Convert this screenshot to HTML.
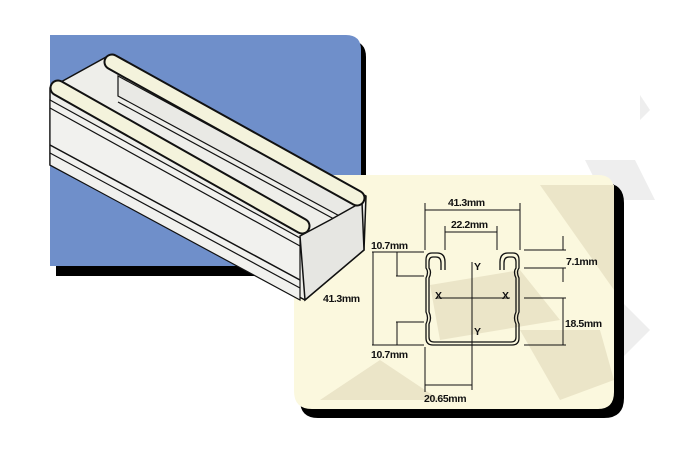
<!DOCTYPE html>
<html><head><meta charset="utf-8"><style>
html,body{margin:0;padding:0;background:#fff;width:700px;height:450px;overflow:hidden}
svg text{font-family:"Liberation Sans",sans-serif;font-size:10.5px;font-weight:bold;fill:#111;letter-spacing:-0.4px}
</style></head><body>
<svg width="700" height="450" viewBox="0 0 700 450" xmlns="http://www.w3.org/2000/svg">
<polygon points="585,160 635,160 655,200 605,200" fill="#eeeeee"/>
<polygon points="610,290 650,330 620,360 600,330" fill="#eeeeee"/>
<polygon points="640,95 650,110 640,120" fill="#eeeeee"/>
<path d="M56,41 H350 Q366,41 366,57 V276 H56 Z" fill="#000"/>
<path d="M50,35 H346 Q361,35 361,50 V266 H50 Z" fill="#6f8fca"/>
<path d="M303,183 H604 Q624,183 624,203 V398 Q624,418 604,418 H318 Q300,418 300,400 Z" fill="#000"/>
<path d="M310,175 H598 Q614,175 614,191 V392 Q614,409 598,409 H312 Q294,409 294,391 V191 Q294,175 310,175 Z" fill="#fbf8de"/>
<polygon points="540,185 614,185 614,290" fill="#ebe5c8"/>
<polygon points="430,285 520,270 560,320 440,340" fill="#ebe5c8"/>
<polygon points="320,400 380,360 440,400" fill="#ebe5c8"/>
<polygon points="520,330 600,330 614,380 560,400" fill="#ebe5c8"/>
<!-- 3D channel -->
<polygon points="50,88 108,56 366,196 364,250 305,300 50,165" fill="#eeeeea" stroke="#111" stroke-width="1.5"/>
<polygon points="118,76 358,206 358,226 118,96" fill="#e9e9e5" stroke="#111" stroke-width="1.2"/>
<polygon points="50,100 300,238 300,300 50,165" fill="#f1f1ee" stroke="#111" stroke-width="1.2"/>
<line x1="50" y1="108" x2="300" y2="246" stroke="#111" stroke-width="1.2"/>
<line x1="50" y1="145" x2="300" y2="280" stroke="#111" stroke-width="1.5"/>
<line x1="50" y1="153" x2="300" y2="288" stroke="#111" stroke-width="1.2"/>
<line x1="118" y1="102" x2="358" y2="232" stroke="#111" stroke-width="1.2"/>
<polygon points="300,236 330,220 362,202 364,250 305,300" fill="#e6e6e2" stroke="#111" stroke-width="1.5"/>
<line x1="112" y1="62" x2="357" y2="198" stroke="#111" stroke-width="17" stroke-linecap="round"/>
<line x1="112" y1="62" x2="357" y2="198" stroke="#f4f3dc" stroke-width="13" stroke-linecap="round"/>
<line x1="58" y1="88" x2="302" y2="226" stroke="#111" stroke-width="17" stroke-linecap="round"/>
<line x1="58" y1="88" x2="302" y2="226" stroke="#f4f3dc" stroke-width="13" stroke-linecap="round"/>
<!-- profile -->
<g fill="none" stroke="#111" stroke-width="1.3">
<path d="M445,270 V262 Q445,253 437,253 H432 Q426,253 426,260 V268 Q429,272 426,278 V312 Q429,318 426,324 V338 Q426,345 433,345 H512 Q519,345 519,338 V324 Q516,318 519,312 V278 Q516,272 519,268 V260 Q519,253 513,253 H508 Q500,253 500,262 V270"/>
<path d="M441,270 V263 Q441,257 436,257 H433 Q429,257 429,262 V268 Q432,272 429,278 V312 Q432,318 429,324 V337 Q429,342 434,342 H511 Q516,342 516,337 V324 Q513,318 516,312 V278 Q513,272 516,268 V262 Q516,257 512,257 H509 Q504,257 504,263 V270"/>
</g>
<g stroke="#111" stroke-width="1" fill="none">
<line x1="437" y1="298" x2="510" y2="298"/>
<line x1="472" y1="262" x2="472" y2="390"/>
<line x1="425" y1="203" x2="425" y2="250"/><line x1="520" y1="203" x2="520" y2="250"/>
<line x1="425" y1="210" x2="520" y2="210"/>
<line x1="445" y1="226" x2="445" y2="250"/><line x1="497" y1="226" x2="497" y2="250"/>
<line x1="445" y1="232" x2="497" y2="232"/>
<line x1="372" y1="252" x2="424" y2="252"/><line x1="372" y1="345" x2="424" y2="345"/>
<line x1="373" y1="252" x2="373" y2="345"/>
<line x1="396" y1="276" x2="424" y2="276"/><line x1="397" y1="252" x2="397" y2="276"/>
<line x1="396" y1="322" x2="424" y2="322"/><line x1="397" y1="322" x2="397" y2="345"/>
<line x1="524" y1="250" x2="566" y2="250"/><line x1="524" y1="268" x2="566" y2="268"/>
<line x1="563" y1="236" x2="563" y2="250"/><line x1="563" y1="268" x2="563" y2="282"/>
<line x1="524" y1="298" x2="566" y2="298"/><line x1="524" y1="345" x2="566" y2="345"/>
<line x1="563" y1="298" x2="563" y2="345"/>
<line x1="425" y1="347" x2="425" y2="392"/>
<line x1="425" y1="385" x2="472" y2="385"/>
</g>
<text x="448" y="206">41.3mm</text>
<text x="451" y="228">22.2mm</text>
<text x="371" y="249">10.7mm</text>
<text x="323" y="302">41.3mm</text>
<text x="371" y="358">10.7mm</text>
<text x="566" y="265">7.1mm</text>
<text x="565" y="327">18.5mm</text>
<text x="424" y="402">20.65mm</text>
<text x="435" y="299">X</text><text x="502" y="299">X</text>
<text x="474" y="270">Y</text><text x="474" y="335">Y</text>
</svg>
</body></html>
